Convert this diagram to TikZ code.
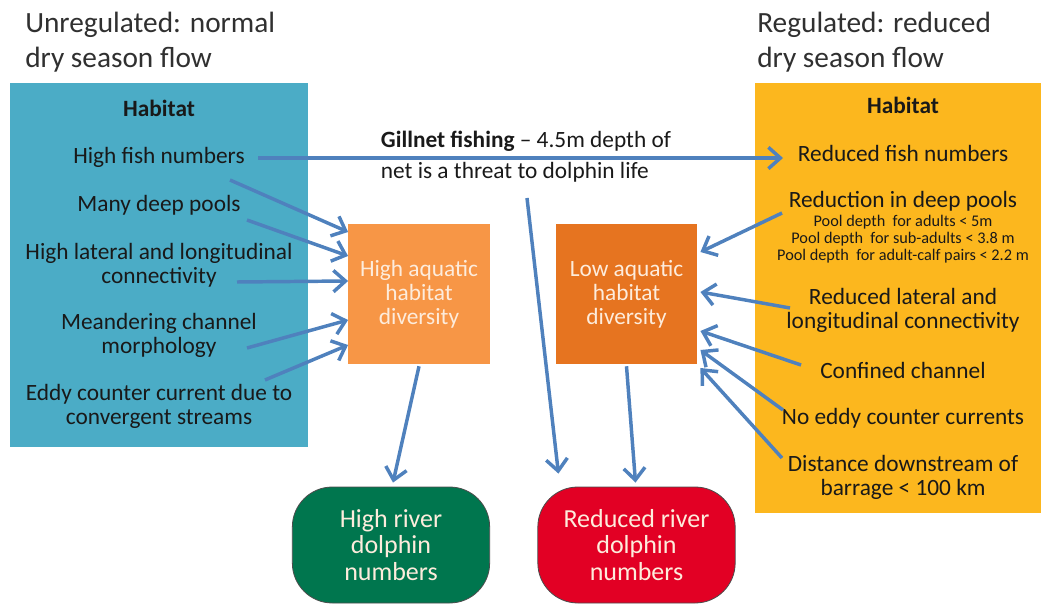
\documentclass[tikz,border=0pt]{standalone}
\usepackage{fontspec}
\setmainfont{Carlito}
\usetikzlibrary{positioning,shapes,arrows.meta}

\definecolor{habblue}{RGB}{75,172,198}
\definecolor{habgold}{RGB}{252,183,30}
\definecolor{hiorange}{RGB}{247,150,70}
\definecolor{loorange}{RGB}{230,116,32}
\definecolor{dolgreen}{RGB}{0,118,78}
\definecolor{dolred}{RGB}{226,0,36}
\definecolor{arrowblue}{RGB}{79,129,189}
\definecolor{inktext}{RGB}{25,25,25}
\definecolor{palefont}{RGB}{253,236,220}

\begin{document}
\begin{tikzpicture}[x=0.75pt, y=-0.75pt,
    item/.style={align=center, inner sep=2pt, text=inktext, font=\fontsize{17.5}{18}\selectfont},
    habhead/.style={item, font=\fontsize{17.5}{18}\selectfont\bfseries},
    small/.style={align=center, inner sep=2pt, text=inktext, font=\fontsize{12.2}{12.75}\selectfont},
    heading/.style={align=left, anchor=north west, inner sep=0pt, text=inktext!90, font=\fontsize{22}{26}\selectfont},
    divbox/.style={minimum width=106pt, minimum height=105pt, inner sep=0pt, align=center, text=palefont, font=\fontsize{17.5}{18}\selectfont},
    dolbox/.style={rounded corners=30pt, draw=black!70, line width=0.6pt, minimum width=148pt, minimum height=87pt, align=center, text=palefont, font=\fontsize{19.5}{20}\selectfont},
    flow/.style={draw=arrowblue, line width=2.6pt, -{Straight Barb[length=9pt,width=16pt]}}]

    \useasboundingbox (0,0) rectangle (1041,605);

    % Titles
    \node[heading] (ttlL) at (25,12) {Unregulated: normal\\dry season flow};
    \node[heading] (ttlR) at (757,12) {Regulated: reduced\\dry season flow};

    % Habitat panels
    \fill[habblue] (10,83) rectangle (308,447);
    \fill[habgold] (755,83) rectangle (1041,513);

    % Unregulated habitat
    \node[habhead] (lhab) at (159,108) {Habitat};
    \node[item] (lfish) at (159,157) {High fish numbers};
    \node[item] (lpools) at (159,205) {Many deep pools};
    \node[item] (lconn) at (159,265) {High lateral and longitudinal\\connectivity};
    \node[item] (lmeander) at (159,335) {Meandering channel\\morphology};
    \node[item] (leddy) at (159,406) {Eddy counter current due to\\convergent streams};

    % Regulated habitat
    \node[habhead] (rhab) at (903,105) {Habitat};
    \node[item] (rfish) at (903,153) {Reduced fish numbers};
    \node[item] (rpools) at (903,201) {Reduction in deep pools};
    \node[small] (rdepth) at (903,239) {Pool depth\ \ for adults < 5m\\Pool depth\ \ for sub-adults < 3.8 m\\Pool depth\ \ for adult-calf pairs < 2.2 m};
    \node[item] (rconn) at (903,310) {Reduced lateral and\\longitudinal connectivity};
    \node[item] (rconf) at (903,370) {Confined channel};
    \node[item] (reddy) at (903,418) {No eddy counter currents};
    \node[item] (rdist) at (903,477) {Distance downstream of\\barrage < 100 km};

    % Habitat diversity
    \node[divbox, fill=hiorange] (hiDiv) at (419,294) {High aquatic\\habitat\\diversity};
    \node[divbox, fill=loorange] (loDiv) at (626.5,294) {Low aquatic\\habitat\\diversity};

    % Dolphin numbers
    \node[dolbox, fill=dolgreen] (hiDol) at (391,545) {High river\\dolphin\\numbers};
    \node[dolbox, fill=dolred] (loDol) at (636.5,545) {Reduced river\\dolphin\\numbers};

    % Gillnet threat
    \node[item, align=left, anchor=west, font=\fontsize{17.5}{23}\selectfont] (gill) at (378,157)
        {\textbf{Gillnet fishing} – 4.5m depth of\\net is a threat to dolphin life};

    % Arrows
    \draw[flow] ([shift={(99,1)}]lfish.center) -- ([shift={(-120,5)}]rfish.center);
    \foreach \src/\sx/\sy/\dy in {lfish/71/23/-62, lpools/88/15/-38, lconn/78/17/-13, lmeander/88/13/26, leddy/106/-26/51}
        \draw[flow] ([shift={(\sx,\sy)}]\src.center) -- ([shift={(0,\dy)}]hiDiv.west);
    \foreach \src/\sx/\sy/\dy in {rpools/-121/12/-42, rconn/-113/-2/-2, rconf/-102/-5/37, reddy/-120/-8/56, rdist/-121/-19/74}
        \draw[flow] ([shift={(\sx,\sy)}]\src.center) -- ([shift={(3,\dy)}]loDiv.east);
    \draw[flow] ([shift={(0,2)}]hiDiv.south) -- ([shift={(2,-4)}]hiDol.north);
    \draw[flow] ([shift={(149,41)}]gill.west) -- ([shift={(21,-13)}]loDol.north west);
    \draw[flow] ([shift={(0,2)}]loDiv.south) -- ([shift={(-1,-4)}]loDol.north);
\end{tikzpicture}
\end{document}
